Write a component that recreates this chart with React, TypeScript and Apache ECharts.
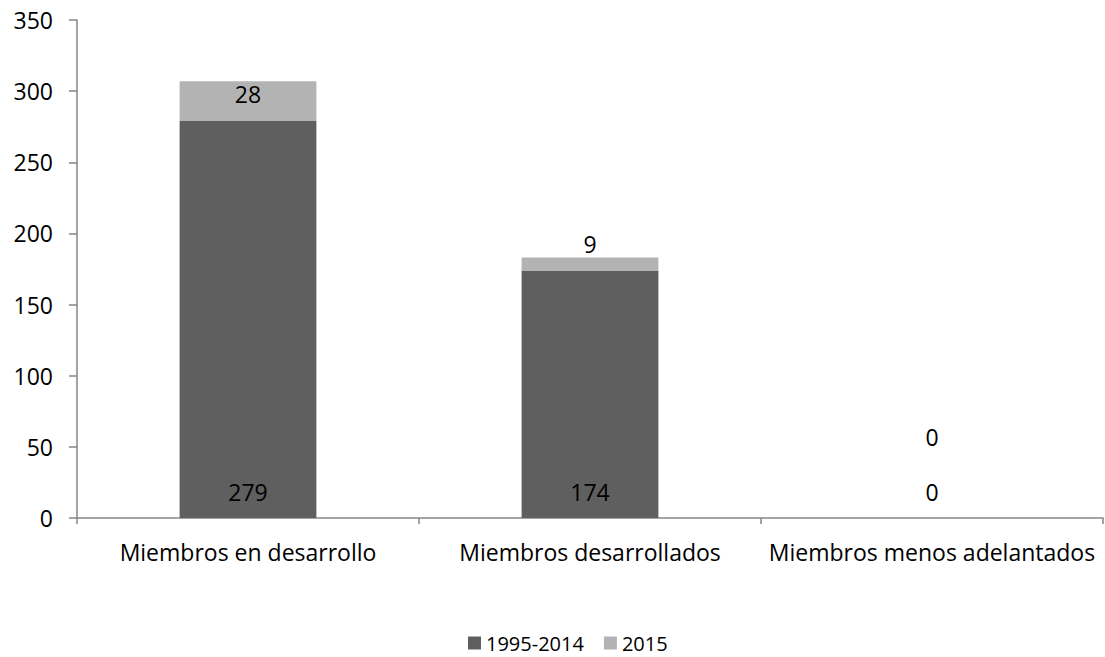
import React, { useEffect, useRef } from "react";
import * as echarts from "echarts";

const categories = ["Miembros en desarrollo", "Miembros desarrollados", "Miembros menos adelantados"];
const seriesNames = ["1995-2014", "2015"];
const values1995 = [279, 174, 0];
const values2015 = [28, 9, 0];
const yTicks = { min: 0, max: 350, interval: 50 };

const FONT = "Open Sans";

export default function App() {
  const ref = useRef<HTMLDivElement>(null);
  useEffect(() => {
    if (!ref.current) return;
    const chart = echarts.init(ref.current, null, { renderer: "svg" });
    const labelStyle = { fontFamily: FONT, fontSize: 23, color: "#000" };
    const label2015 = [
      { position: "insideTop", distance: 1 },
      { position: "top", distance: 2 },
      { position: "top", distance: 70 },
    ];
    chart.setOption({
      animation: false,
      textStyle: { fontFamily: FONT },
      grid: { left: 77, right: 2, top: 20, bottom: 139, containLabel: false },
      legend: {
        top: 633,
        left: 468,
        padding: 0,
        itemWidth: 13,
        itemHeight: 13,
        itemGap: 20,
        icon: "rect",
        textStyle: { fontFamily: FONT, fontSize: 20, color: "#000", padding: [0, 0, 0, 0] },
        data: seriesNames,
      },
      xAxis: {
        type: "category",
        data: categories,
        axisLine: { lineStyle: { color: "#868686", width: 1.5 } },
        axisTick: { show: true, alignWithLabel: false, length: 6, lineStyle: { color: "#868686", width: 1.5 } },
        axisLabel: { fontFamily: FONT, fontSize: 23, color: "#000", margin: 22, interval: 0 },
      },
      yAxis: {
        type: "value",
        min: yTicks.min,
        max: yTicks.max,
        interval: yTicks.interval,
        splitLine: { show: false },
        axisLine: { show: true, lineStyle: { color: "#868686", width: 1.5 } },
        axisTick: { show: true, length: 8, lineStyle: { color: "#868686", width: 1.5 } },
        axisLabel: { fontFamily: FONT, fontSize: 23, color: "#000", margin: 24 },
      },
      series: [
        {
          name: seriesNames[0],
          type: "bar",
          stack: "total",
          barWidth: "40%",
          itemStyle: { color: "#5f5f5f" },
          label: { show: true, position: "insideBottom", distance: 15, ...labelStyle },
          data: values1995,
        },
        {
          name: seriesNames[1],
          type: "bar",
          stack: "total",
          barWidth: "40%",
          itemStyle: { color: "#b3b3b3" },
          data: values2015.map((v, i) => ({
            value: v,
            label: { show: true, ...labelStyle, ...label2015[i] },
          })),
        },
      ],
    });
    return () => chart.dispose();
  }, []);
  return (
    <div
      ref={ref}
      style={{ position: "fixed", left: 0, top: 0, width: 1105, height: 657, background: "#fff" }}
    />
  );
}
